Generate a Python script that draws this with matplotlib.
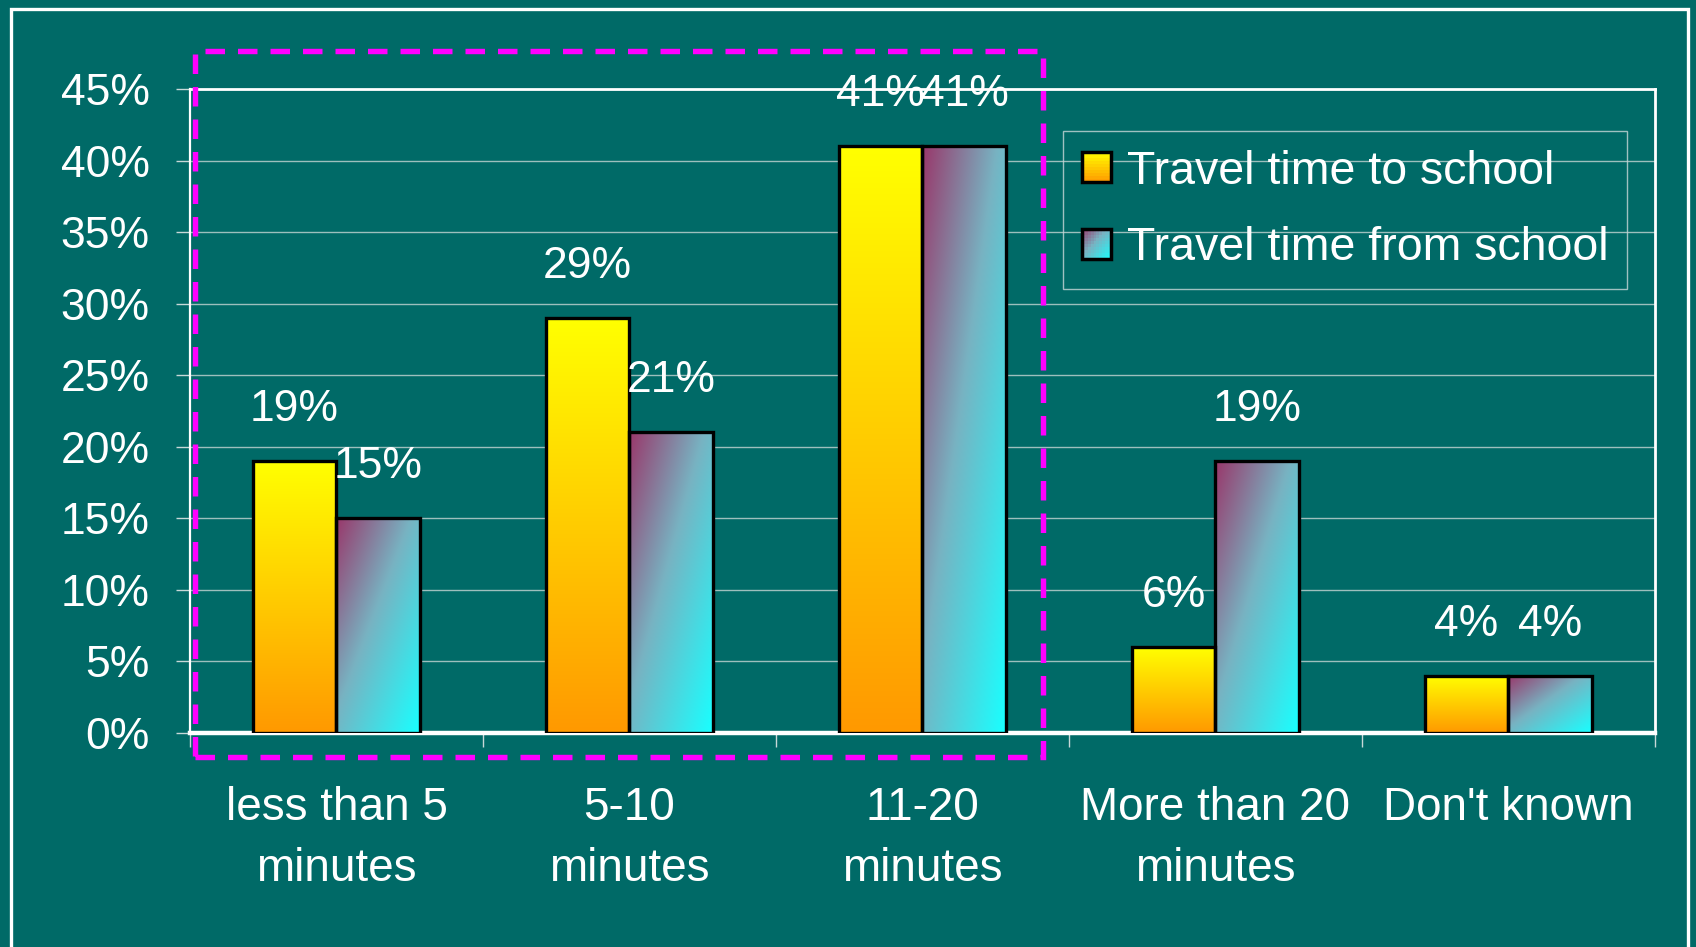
"""Travel time to / from school - grouped bar chart on a teal slide background."""

import matplotlib

matplotlib.use("Agg")
import matplotlib.pyplot as plt  # noqa: E402
import numpy as np  # noqa: E402
from matplotlib.legend_handler import HandlerBase  # noqa: E402
from matplotlib.patches import Patch, Rectangle  # noqa: E402

categories = ["less than 5\nminutes", "5-10\nminutes", "11-20\nminutes",
              "More than 20\nminutes", "Don't known"]
to_school = [19, 29, 41, 6, 4]
from_school = [15, 21, 41, 19, 4]
series_names = ["Travel time to school", "Travel time from school"]
yticks = [0, 5, 10, 15, 20, 25, 30, 35, 40, 45]

BG = "#006a67"
GRID = "#9dbfbd"
YELLOW, ORANGE = np.array([1.0, 1.0, 0.0]), np.array([1.0, 0.6, 0.0])
MAROON, MID, CYAN = (np.array([0.60, 0.22, 0.42]), np.array([0.47, 0.70, 0.76]),
                     np.array([0.10, 1.0, 1.0]))

plt.rcParams["font.family"] = ["Liberation Sans", "DejaVu Sans"]


def warm(u, v):
    # vertical yellow -> orange
    return YELLOW + (ORANGE - YELLOW) * v


def cool(u, v):
    # diagonal maroon (top-left) -> cyan (bottom-right)
    t = np.clip((u + v) / 2.0, 0, 1)
    t = np.asarray(t)[..., None]
    lo = MAROON + (MID - MAROON) * (t / 0.45)
    hi = MID + (CYAN - MID) * ((t - 0.45) / 0.55)
    return np.where(t < 0.45, lo, hi)


def gradient(func, nx=40, ny=120):
    u, v = np.meshgrid(np.linspace(0, 1, nx), np.linspace(0, 1, ny))
    if func is warm:
        return YELLOW + (ORANGE - YELLOW) * v[..., None]
    return cool(u, v)


class GradientHandler(HandlerBase):
    def __init__(self, func, n=10):
        super().__init__()
        self.func = func
        self.n = n

    def create_artists(self, legend, orig_handle, xdescent, ydescent, width, height, fontsize, trans):
        arts = []
        n = self.n
        for i in range(n):
            for j in range(n):
                u, v = (i + 0.5) / n, (j + 0.5) / n
                col = np.clip(np.ravel(self.func(u, v)), 0, 1)
                arts.append(Rectangle((-xdescent + i * width / n, -ydescent + height - (j + 1) * height / n),
                                      width / n * 1.02, height / n * 1.02, facecolor=col,
                                      lw=0, antialiased=False, transform=trans))
        arts.append(Rectangle((-xdescent, -ydescent), width, height, facecolor="none",
                              edgecolor="black", lw=2.5, transform=trans))
        return arts


fig = plt.figure(figsize=(16.96, 9.47), dpi=100, facecolor=BG)
ax = fig.add_axes([0.112, 0.226, 0.8638, 0.680])
ax.set_facecolor(BG)

# outer slide frame
fig.patches.append(Rectangle((0.0063, -0.05), 0.989, 1.041, transform=fig.transFigure,
                             facecolor="none", edgecolor="white", lw=2.4))

x = np.arange(len(categories))
w = 0.286
for vals, off, func in [(to_school, -w / 2, warm), (from_school, w / 2, cool)]:
    bars = ax.bar(x + off, vals, w, facecolor="none", edgecolor="black", lw=2.4, zorder=4)
    for b, val in zip(bars, vals):
        x0 = b.get_x()
        ax.imshow(np.clip(gradient(func), 0, 1), extent=[x0, x0 + w, 0, val], aspect="auto",
                  origin="upper", interpolation="bilinear", zorder=3)
        ax.text(x0 + w / 2, val + 3.6, f"{val}%", ha="center", va="center",
                color="white", fontsize=32, zorder=5)

ax.set_xlim(-0.5, len(categories) - 0.5)
ax.set_ylim(0, 45)
ax.set_yticks(yticks)
ax.set_yticklabels([f"{v}%" for v in yticks])
ax.set_xticks(x)
ax.set_xticklabels(categories, linespacing=1.5)
ax.set_xticks(np.arange(len(categories) + 1) - 0.5, minor=True)
ax.tick_params(axis="x", which="major", length=0, pad=38, labelsize=33, labelcolor="white")
ax.tick_params(axis="x", which="minor", length=10, width=1, color="#c8d8d8", direction="out")
ax.tick_params(axis="y", length=10, width=1, color="#c8d8d8", pad=19, labelsize=32, labelcolor="white")
ax.yaxis.grid(True, color=GRID, lw=1.0)
ax.set_axisbelow(True)
for side, lw in [("left", 1.6), ("top", 2.0), ("right", 2.0), ("bottom", 3.2)]:
    ax.spines[side].set_color("white")
    ax.spines[side].set_linewidth(lw)

# magenta dashed highlight box
ax.add_patch(Rectangle((-0.4815, -1.66), 2.8915, 49.3, fill=False, edgecolor="#ff00ff",
                       lw=3.9, linestyle=(0, (3.6, 2.4)), clip_on=False, zorder=6))

handles = [Patch(label=series_names[0]), Patch(label=series_names[1])]
leg = fig.legend(handles=handles, loc="upper left", bbox_to_anchor=(0.627, 0.8617),
                 bbox_transform=fig.transFigure, borderaxespad=0, fontsize=33.5,
                 handlelength=0.62, handleheight=0.62, handletextpad=0.35, labelspacing=0.7,
                 borderpad=0.4, frameon=True, fancybox=False,
                 handler_map={handles[0]: GradientHandler(warm), handles[1]: GradientHandler(cool)})
leg.get_frame().set_facecolor("none")
leg.get_frame().set_edgecolor("#c8d8d8")
leg.get_frame().set_linewidth(1.0)
for t in leg.get_texts():
    t.set_color("white")

fig.savefig("out.png", dpi=100, facecolor=BG)
